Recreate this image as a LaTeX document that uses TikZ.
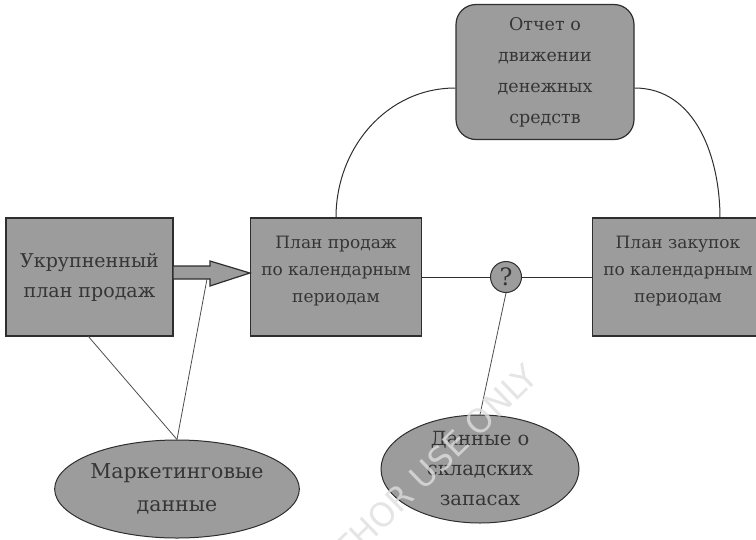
\documentclass[tikz,border=0pt]{standalone}
\usepackage{fontspec}
\setmainfont{DejaVu Serif}
\setsansfont{DejaVu Sans}
\usetikzlibrary{shapes.geometric}
\definecolor{boxfill}{HTML}{9C9C9C}
\definecolor{ink}{HTML}{2E2E2E}
\definecolor{txt}{HTML}{353535}
\tikzset{
  box/.style={draw=ink, line width=1.2pt, fill=boxfill, text=txt, align=center, inner sep=0pt},
  oval/.style={ellipse, draw=ink, line width=1pt, fill=boxfill, text=txt, align=center, inner sep=0pt},
  conn/.style={draw=ink, line width=1pt},
  thinline/.style={draw=ink!85, line width=0.8pt},
}
\begin{document}
\begin{tikzpicture}[x=1pt,y=-1pt]
\useasboundingbox (0,0) rectangle (756,539);
\node[box, minimum width=167pt, minimum height=118pt, font=\fontsize{19}{30}\selectfont] (b1) at (89.5,277) {Укрупненный\\план продаж};
\node[box, minimum width=171pt, minimum height=118pt, font=\fontsize{17}{27}\selectfont] (b2) at (336,277) {План продаж\\по календарным\\периодам\\[-12pt]};
\node[box, minimum width=171pt, minimum height=118pt, font=\fontsize{17}{27}\selectfont] (b3) at (678,277) {План закупок\\по календарным\\периодам\\[-12pt]};
\node[box, rounded corners=20pt, minimum width=178pt, minimum height=135pt, font=\fontsize{17.5}{31}\selectfont] (rep) at (545,72) {Отчет о\\движении\\денежных\\средств};
\node[oval, minimum width=230pt, minimum height=98pt, font=\fontsize{20.5}{33}\selectfont] (mkt) at (177,489) {Маркетинговые\\данные};
\node[oval, minimum width=198pt, minimum height=108pt, font=\fontsize{19.5}{30}\selectfont] (stk) at (480,469) {Данные о\\складских\\запасах};
\node[circle, draw=ink, line width=1pt, fill=boxfill, text=txt, minimum size=31pt, inner sep=0pt, font=\fontsize{24}{24}\selectfont] (q) at (506,277) {?};
% fat arrow
\fill[boxfill, draw=ink, line width=1.2pt] (173,266) -- (210,266) -- (210,261) -- (b2.west|-0,273) -- (210,286) -- (210,279) -- (173,279) -- cycle;
\coordinate (ashaft) at (207,279);
\coordinate (b1b) at (88,336);
% connectors
\draw[conn] (b2.east|-q) -- (q.west);
\draw[conn] (q.east) -- (b3.west|-q);
\draw[thinline] (q.south) -- (stk.north);
\draw[thinline] (b1b) -- (mkt.north);
\draw[thinline] (ashaft) -- (mkt.north);
\draw[conn] (b2.north) to[out=90,in=180] (rep.west|-0,88);
\coordinate (b3t) at (720,218);
\draw[conn] (b3t) to[out=90,in=0] (rep.east|-0,88);
% watermark
\node[rotate=44, anchor=east, text=black!13, font=\fontsize{33}{33}\selectfont\sffamily, opacity=0.8] (wm) at (534,368) {FOR AUTHOR USE ONLY};
\end{tikzpicture}
\end{document}
